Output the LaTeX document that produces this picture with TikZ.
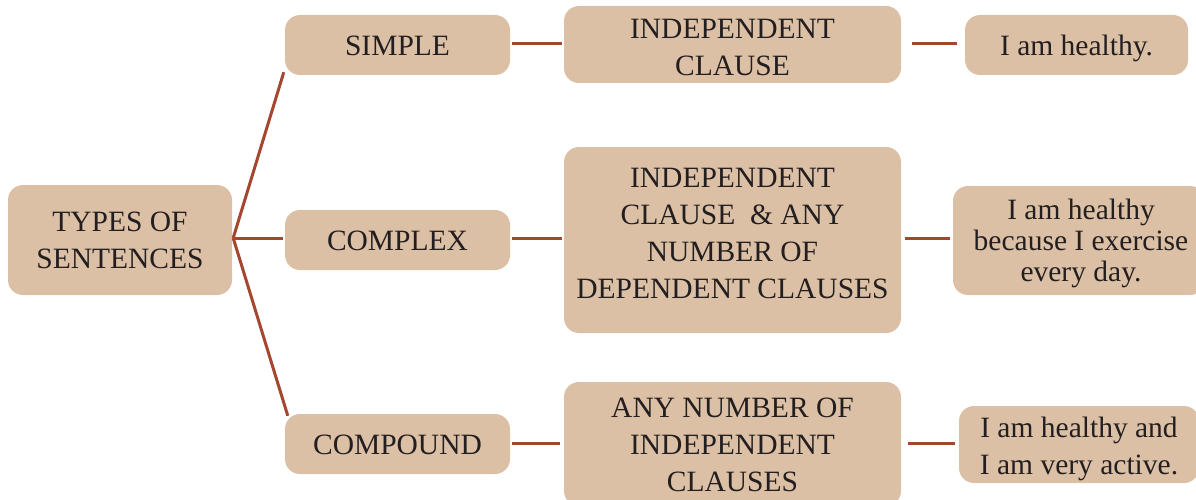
\documentclass[tikz,border=0pt]{standalone}
\usepackage{fontspec}
\setmainfont{Liberation Serif}
\definecolor{boxfill}{HTML}{DCC0A5}
\definecolor{linkcol}{HTML}{A3472F}
\definecolor{txtcol}{HTML}{231F20}
\begin{document}
\begin{tikzpicture}[x=1pt,y=-1pt,
  box/.style={fill=boxfill, rounded corners=15pt, inner sep=0pt},
  txt/.style={align=center, inner sep=0pt, text=txtcol, font=\fontsize{29.5}{37}\selectfont},
  link/.style={draw=linkcol, line width=3pt}]
\useasboundingbox (0,0) rectangle (1196,500);
\begin{scope}
\clip (0,0) rectangle (1196,500);
\node[box, minimum width=224pt, minimum height=110pt] (types) at (120,240) {};
\node[box, minimum width=225pt, minimum height=60pt] (simple) at (397.5,45) {};
\node[box, minimum width=225pt, minimum height=60pt] (complex) at (397.5,240) {};
\node[box, minimum width=225pt, minimum height=60pt] (compound) at (397.5,444) {};
\node[box, minimum width=337pt, minimum height=77pt] (ic) at (732.5,44.5) {};
\node[box, minimum width=337pt, minimum height=186pt] (mid) at (732.5,240) {};
\node[box, minimum width=337pt, minimum height=124pt] (bot) at (732.5,444) {};
\node[box, minimum width=223pt, minimum height=60pt] (r1) at (1076.5,45) {};
\node[box, minimum width=252pt, minimum height=109pt] (r2) at (1079,240.5) {};
\node[box, minimum width=240pt, minimum height=77pt] (r3) at (1079,444.5) {};
\end{scope}
\node[txt] (types-t) at ([yshift=0pt]types.center) {TYPES OF\\SENTENCES};
\node[txt] (simple-t) at ([yshift=-1pt]simple.center) {SIMPLE};
\node[txt] (complex-t) at ([yshift=-0.5pt]complex.center) {COMPLEX};
\node[txt] (compound-t) at ([yshift=-1pt]compound.center) {COMPOUND};
\node[txt] (ic-t) at ([yshift=-3pt]ic.center) {INDEPENDENT\\CLAUSE};
\node[txt] (mid-t) at ([yshift=7pt]mid.center) {INDEPENDENT\\CLAUSE \ \& ANY\\NUMBER OF\\DEPENDENT CLAUSES};
\node[txt] (bot-t) at ([yshift=-0.5pt]bot.center) {ANY NUMBER OF\\INDEPENDENT\\CLAUSES};
\node[txt] (r1-t) at ([yshift=-3pt]r1.center) {I am healthy.};
\node[txt, font=\fontsize{29.5}{31}\selectfont] (r2-t) at ([xshift=2pt,yshift=-3pt]r2.center) {I am healthy\\because I exercise\\every day.};
\node[txt] (r3-t) at ([yshift=-4pt]r3.center) {I am healthy and\\I am very active.};
\coordinate (hub) at ([xshift=1pt,yshift=2pt]types.east);
\draw[link] (hub) -- ([xshift=-1pt,yshift=3pt]simple.south west);
\draw[link] (hub) -- ([xshift=3pt,yshift=-2pt]compound.north west);
\draw[link, shorten >=2pt] (hub) -- (hub -| complex.west);
\draw[link, shorten <=2pt, shorten >=2pt] ([yshift=1pt]simple.east) -- ([yshift=1pt]simple.east -| ic.west);
\draw[link, shorten <=11pt, shorten >=8pt] ([yshift=0.5pt]ic.east) -- ([yshift=0.5pt]ic.east -| r1.west);
\draw[link, shorten <=2pt, shorten >=2pt] ([yshift=2pt]complex.east) -- ([yshift=2pt]complex.east -| mid.west);
\draw[link, shorten <=4pt, shorten >=3pt] ([yshift=2pt]mid.east) -- ([yshift=2pt]mid.east -| r2.west);
\draw[link, shorten <=2pt, shorten >=4pt] ([yshift=1pt]compound.east) -- ([yshift=1pt]compound.east -| bot.west);
\draw[link, shorten <=7pt, shorten >=4pt] ([yshift=1pt]bot.east) -- ([yshift=1pt]bot.east -| r3.west);
\end{tikzpicture}
\end{document}
